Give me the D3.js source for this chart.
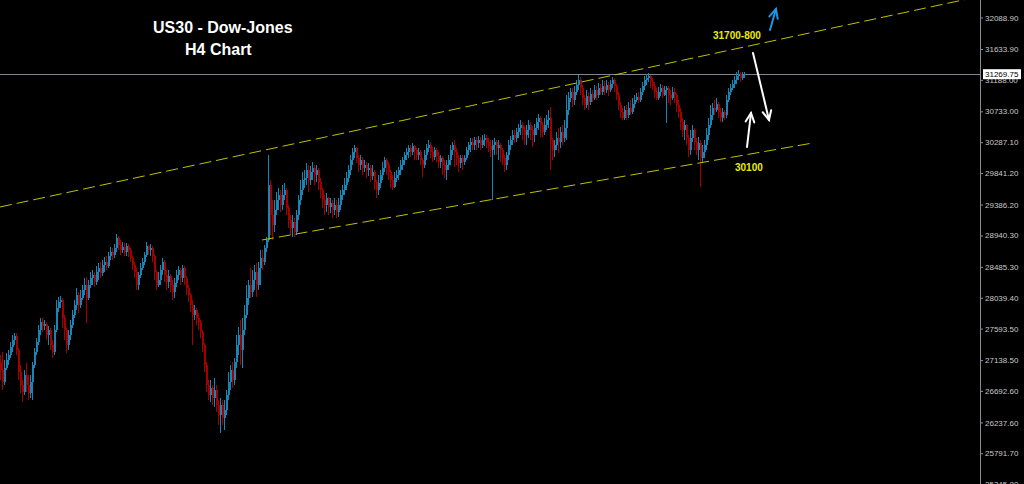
<!DOCTYPE html>
<html><head><meta charset="utf-8">
<script src="https://cdn.jsdelivr.net/npm/d3@7"></script>
<style>html,body{margin:0;padding:0;background:#000;overflow:hidden}svg{display:block}</style>
</head><body>
<svg id="chart" width="1024" height="484"></svg>
<script>
// ---- DATA ----
// H4 candles: [open, high, low, close]
const candles = [
[27111,27212,26851,26995],[26995,27255,26706,26822],[26822,27140,26779,27025],[27025,27241,26995,27140],[27140,27284,27068,27212],
[27212,27400,27169,27328],[27328,27501,27255,27429],[27429,27530,27357,27487],[27487,27530,27212,27284],[27284,27314,26851,26966],
[26966,27068,26663,26779],[26779,26851,26533,26677],[26677,26995,26634,26923],[26923,27097,26677,26779],[26779,26923,26562,26663],
[26663,26923,26591,26822],[26822,27111,26562,27068],[27068,27314,27025,27255],[27255,27458,27212,27400],[27400,27646,27357,27573],
[27573,27747,27501,27689],[27689,27747,27544,27632],[27632,27718,27573,27660],[27660,27689,27429,27501],[27501,27632,27357,27573],
[27573,27602,27284,27357],[27357,27429,27169,27255],[27255,27646,27212,27573],[27573,28007,27544,27891],[27891,28050,27833,27978],
[27978,28065,27891,28007],[28007,28036,27602,27747],[27747,27790,27429,27573],[27573,27602,27241,27357],[27357,27573,27284,27501],
[27501,27718,27429,27646],[27646,27862,27602,27790],[27790,28007,27747,27935],[27935,28180,27862,28079],[28079,28122,27819,27935],
[27935,28151,27891,28036],[28036,28224,28007,28151],[28151,28325,28079,28224],[28224,28339,27675,28036],[28036,28296,28007,28224],
[28224,28411,28180,28325],[28325,28440,28224,28368],[28368,28411,28195,28267],[28267,28499,28224,28411],[28411,28542,28296,28470],
[28470,28556,28325,28397],[28397,28585,28354,28513],[28513,28628,28411,28556],[28556,28643,28440,28499],[28499,28700,28470,28643],
[28643,28773,28585,28700],[28700,28758,28585,28657],[28657,28816,28614,28758],[28758,28960,28700,28903],[28903,28932,28729,28802],
[28802,28874,28657,28729],[28729,28845,28686,28773],[28773,28831,28643,28700],[28700,28831,28643,28787],[28787,28816,28628,28729],
[28729,28758,28556,28614],[28614,28643,28440,28513],[28513,28556,28325,28411],[28411,28470,28151,28224],[28224,28411,28151,28368],
[28368,28542,28325,28470],[28470,28614,28440,28556],[28556,28700,28513,28657],[28657,28845,28628,28787],[28787,28802,28657,28729],
[28729,28816,28643,28758],[28758,28787,28556,28643],[28643,28671,28296,28411],[28411,28440,28151,28224],[28224,28411,28195,28296],
[28296,28513,28224,28440],[28440,28614,28368,28556],[28556,28585,28267,28368],[28368,28440,28151,28267],[28267,28440,28180,28354],
[28354,28383,28122,28224],[28224,28296,28007,28122],[28122,28325,28036,28253],[28253,28440,28195,28368],[28368,28499,28296,28440],
[28440,28470,28224,28325],[28325,28513,28267,28470],[28470,28499,28224,28325],[28325,28354,28079,28180],[28180,28224,27978,28079],
[28079,28108,27833,27935],[27935,28007,27357,27790],[27790,27935,27718,27862],[27862,27891,27646,27747],[27747,27819,27573,27689],
[27689,27718,27458,27544],[27544,27573,27255,27357],[27357,27386,26966,27068],[27068,27111,26677,26779],[26779,26851,26562,26634],
[26634,26851,26533,26735],[26735,26779,26490,26591],[26591,26880,26461,26706],[26706,26779,26388,26490],[26490,26562,26201,26345],
[26345,26591,26085,26490],[26490,26562,26201,26302],[26302,26562,26128,26417],[26417,26706,26345,26634],[26634,26966,26562,26822],
[26822,27068,26706,26995],[26995,27111,26735,26851],[26851,27169,26779,27111],[27111,27501,27025,27357],[27357,27617,27212,27501],
[27501,27718,27068,27284],[27284,27747,27025,27573],[27573,27935,27501,27790],[27790,28224,27747,28036],[28036,28296,27935,28224],
[28224,28470,28036,28122],[28122,28440,28050,28296],[28296,28513,28151,28411],[28411,28542,28050,28224],[28224,28556,28151,28470],
[28470,28729,28224,28614],[28614,28729,28440,28556],[28556,28802,28513,28758],[28758,28917,28700,28874],[28874,30102,28845,29669],
[29669,29741,28946,29235],[29235,29452,28874,29091],[29091,29452,28989,29307],[29307,29567,29235,29452],[29452,29625,29307,29524],
[29524,29596,29278,29380],[29380,29669,29307,29524],[29524,29698,29452,29596],[29596,29625,29235,29336],[29336,29380,29047,29163],
[29163,29235,28946,29047],[29047,29235,28917,29134],[29134,29192,28917,28989],[28989,29307,28946,29235],[29235,29524,29163,29452],
[29452,29741,29380,29596],[29596,29857,29524,29741],[29741,29885,29625,29770],[29770,29987,29669,29885],[29885,29958,29567,29741],
[29741,29943,29669,29857],[29857,30001,29741,29914],[29914,29958,29669,29813],[29813,29958,29712,29885],[29885,29914,29596,29712],
[29712,29770,29481,29596],[29596,29625,29336,29452],[29452,29524,29235,29380],[29380,29553,29278,29481],[29481,29495,29235,29351],
[29351,29481,29264,29409],[29409,29452,29192,29307],[29307,29481,29235,29380],[29380,29452,29192,29278],[29278,29481,29206,29380],
[29380,29596,29307,29524],[29524,29669,29452,29596],[29596,29770,29524,29669],[29669,29857,29596,29770],[29770,29958,29712,29885],
[29885,30102,29813,30030],[30030,30203,29958,30145],[30145,30247,30059,30203],[30203,30218,29987,30059],[30059,30102,29857,29958],
[29958,30102,29885,30030],[30030,30073,29813,29914],[29914,30030,29857,29958],[29958,30001,29770,29885],[29885,29987,29799,29914],
[29914,29958,29712,29799],[29799,29958,29741,29857],[29857,29885,29596,29712],[29712,29741,29481,29596],[29596,29813,29524,29698],
[29698,29885,29625,29813],[29813,30001,29741,29914],[29914,30073,29857,30030],[30030,30059,29813,29958],[29958,30001,29741,29857],
[29857,29885,29625,29741],[29741,29813,29596,29640],[29640,29857,29625,29770],[29770,29885,29712,29813],[29813,29929,29741,29885],
[29885,30030,29813,29958],[29958,30073,29885,30030],[30030,30145,29958,30102],[30102,30203,30030,30145],[30145,30247,30059,30203],
[30203,30247,30073,30145],[30145,30276,30102,30232],[30232,30247,30030,30174],[30174,30203,30030,30102],[30102,30203,30030,30145],
[30145,30174,29958,30030],[30030,30059,29784,29958],[29958,30174,29914,30102],[30102,30261,30030,30203],[30203,30319,30145,30247],
[30247,30290,30059,30145],[30145,30218,30001,30073],[30073,30218,30030,30174],[30174,30203,30001,30088],[30088,30145,29914,30001],
[30001,30102,29914,30059],[30059,30088,29813,29958],[29958,30030,29770,29885],[29885,30030,29741,29958],[29958,30102,29885,30030],
[30030,30247,29958,30174],[30174,30290,30102,30247],[30247,30319,29929,30145],[30145,30203,29958,30059],[30059,30102,29857,29987],
[29987,30102,29914,30059],[30059,30102,29885,30001],[30001,30102,29958,30059],[30059,30218,30030,30174],[30174,30290,30102,30247],
[30247,30348,30145,30290],[30290,30348,30174,30247],[30247,30362,30174,30319],[30319,30362,30174,30276],[30276,30377,30203,30319],
[30319,30362,30174,30247],[30247,30391,30203,30319],[30319,30406,30232,30348],[30348,30391,30203,30290],[30290,30348,30145,30232],
[30232,30319,30073,30174],[30174,30319,29452,30247],[30247,30348,30102,30290],[30290,30319,30102,30203],[30203,30319,30030,30247],
[30247,30276,30001,30174],[30174,30203,29958,30059],[30059,30102,29857,29958],[29958,30145,29885,30102],[30102,30319,30030,30247],
[30247,30377,30174,30319],[30319,30463,30247,30391],[30391,30463,30276,30348],[30348,30492,30290,30434],[30434,30550,30348,30492],
[30492,30608,30391,30536],[30536,30579,30319,30463],[30463,30521,30247,30391],[30391,30536,30247,30463],[30463,30608,30348,30536],
[30536,30579,30319,30463],[30463,30521,30218,30391],[30391,30550,30290,30492],[30492,30637,30391,30579],[30579,30694,30463,30637],
[30637,30666,30362,30536],[30536,30579,30362,30434],[30434,30637,30391,30536],[30536,30680,30463,30608],[30608,30752,30492,30637],
[30637,30796,29885,30319],[30319,30348,30030,30174],[30174,30319,30073,30247],[30247,30434,30174,30348],[30348,30492,30131,30290],
[30290,30507,30203,30434],[30434,30536,30247,30348],[30348,30608,30290,30492],[30492,30969,30319,30752],[30752,31013,30680,30926],
[30926,31070,30868,31013],[31013,31070,30796,30897],[30897,31099,30825,31013],[31013,31186,30969,31114],[31114,31258,31041,31186],
[31186,31229,30969,31070],[31070,31114,30825,30926],[30926,30969,30752,30825],[30825,31041,30781,30955],[30955,31013,30752,30868],
[30868,31070,30825,30984],[30984,31041,30868,30926],[30926,31114,30897,31041],[31041,31099,30897,30969],[30969,31143,30926,31070],
[31070,31128,30969,31013],[31013,31186,30969,31099],[31099,31172,30969,31041],[31041,31186,30998,31114],[31114,31157,30955,31041],
[31041,31186,31013,31128],[31128,31229,31070,31186],[31186,31215,31013,31099],[31099,31128,30897,30969],[30969,31013,30752,30825],
[30825,30868,30637,30723],[30723,30781,30608,30637],[30637,30810,30608,30752],[30752,30825,30608,30680],[30680,30868,30637,30781],
[30781,30897,30680,30723],[30723,30926,30694,30839],[30839,30969,30781,30897],[30897,30998,30868,30940],[30940,31013,30854,30897],
[30897,31070,30868,31013],[31013,31157,30969,31099],[31099,31244,31041,31186],[31186,31273,31114,31215],[31215,31287,31157,31244],
[31244,31258,31070,31157],[31157,31215,31041,31099],[31099,31157,30926,31013],[31013,31070,30897,30926],[30926,31085,30897,31013],
[31013,31128,30955,31070],[31070,31114,30926,30969],[30969,31099,30955,31041],[31041,31099,30565,31070],[31070,31099,30854,30969],
[30969,31041,30825,30926],[30926,31085,30897,31013],[31013,31070,30854,30969],[30969,30998,30723,30825],[30825,30897,30637,30723],
[30723,30781,30463,30579],[30579,30637,30362,30463],[30463,30608,30319,30536],[30536,30550,30247,30348],[30348,30391,30073,30174],
[30174,30463,30102,30348],[30348,30536,30290,30463],[30463,30492,30174,30290],[30290,30348,30102,30174],[30174,30362,30030,30276],
[30276,30319,29640,30059],[30059,30247,29987,30145],[30145,30319,30059,30247],[30247,30492,30174,30391],[30391,30637,30319,30536],
[30536,30825,30492,30680],[30680,30854,30608,30781],[30781,30897,30680,30752],[30752,30926,30723,30839],[30839,30868,30637,30723],
[30723,30781,30579,30637],[30637,30781,30579,30723],[30723,30752,30608,30680],[30680,30969,30637,30897],[30897,31070,30868,31013],
[31013,31128,30969,31070],[31070,31186,31041,31128],[31128,31244,31070,31186],[31186,31302,31128,31244],[31244,31330,31186,31273],
[31273,31302,31157,31215],[31215,31302,31186,31258],[31258,31302,31215,31269.75]
];
const priceTicks = [32088.90,31633.90,31188.00,30733.00,30287.10,29841.20,29386.20,28940.30,
                    28485.30,28039.40,27593.50,27138.50,26692.60,26237.60,25791.70,25345.80];
const currentPrice = 31269.75;
// channel trend lines: [barIndex, price]
const upperChannel = [[0,29351],[490,32395]];
const lowerChannel = [[131,28874],[406.5,30276]];
const titleLines = ["US30 - Dow-Jones", "H4 Chart"];
const levelLabels = [{text:"31700-800", i:356.5, p:31778}, {text:"30100", i:367.5, p:29870}];
// arrows: from [barIndex, price] to [barIndex, price]
const arrows = [
  {from:[385,31908], to:[388,32212], color:"#1e96e6"},
  {from:[376.5,31576], to:[384.5,30608], color:"#ffffff"},
  {from:[373.5,30218], to:[375.5,30709], color:"#ffffff"}
];

// ---- DRAW ----
const W = 1024, H = 484, plotRight = 980;
const svg = d3.select("#chart");
svg.append("rect").attr("width", W).attr("height", H).attr("fill", "#000");

const x = d3.scaleLinear().domain([0, 490]).range([0, plotRight]);
const y = d3.scaleLinear().domain([25791.7, 32088.9]).range([453.3, 17.5]);
const bw = x(1) - x(0);

svg.append("defs").append("clipPath").attr("id", "plotClip")
  .append("rect").attr("x", 0).attr("y", 0).attr("width", plotRight).attr("height", H);
const plot = svg.append("g").attr("clip-path", "url(#plotClip)");

// current price line
plot.append("line").attr("x1", 0).attr("x2", plotRight)
  .attr("y1", Math.round(y(currentPrice)) + 0.5).attr("y2", Math.round(y(currentPrice)) + 0.5)
  .attr("stroke", "#7b8593").attr("stroke-width", 1);

const bull = "#1b84b4", bear = "#a30000";
const cg = plot.append("g").attr("shape-rendering", "crispEdges");
cg.selectAll("line.wick").data(candles).join("line").attr("class", "wick")
  .attr("x1", (d, i) => x(i) + 0.5).attr("x2", (d, i) => x(i) + 0.5)
  .attr("y1", d => y(d[1])).attr("y2", d => y(d[2]))
  .attr("stroke", d => d[3] >= d[0] ? bull : bear).attr("stroke-width", 1);
cg.selectAll("rect.body").data(candles).join("rect").attr("class", "body")
  .attr("x", (d, i) => x(i)).attr("width", bw)
  .attr("y", d => y(Math.max(d[0], d[3])))
  .attr("height", d => Math.max(1, Math.abs(y(d[0]) - y(d[3]))))
  .attr("fill", d => d[3] >= d[0] ? bull : bear);

// channel lines
const lineGen = d3.line().x(d => x(d[0])).y(d => y(d[1]));
[upperChannel, lowerChannel].forEach(c => {
  plot.append("path").attr("d", lineGen(c)).attr("fill", "none")
    .attr("stroke", "#c0c000").attr("stroke-width", 1).attr("stroke-dasharray", "12,5");
});

// arrows
arrows.forEach(a => {
  const x1 = x(a.from[0]), y1 = y(a.from[1]), x2 = x(a.to[0]), y2 = y(a.to[1]);
  const ang = Math.atan2(y2 - y1, x2 - x1), L = 10, sp = 0.45;
  const g = plot.append("g").attr("stroke", a.color).attr("stroke-width", 2)
    .attr("fill", "none").attr("stroke-linecap", "round");
  g.append("line").attr("x1", x1).attr("y1", y1).attr("x2", x2).attr("y2", y2);
  g.append("path").attr("d",
    `M${x2 - L * Math.cos(ang - sp)},${y2 - L * Math.sin(ang - sp)}L${x2},${y2}L${x2 - L * Math.cos(ang + sp)},${y2 - L * Math.sin(ang + sp)}`);
});

// level labels
plot.selectAll("text.lvl").data(levelLabels).join("text").attr("class", "lvl")
  .attr("x", d => x(d.i)).attr("y", d => y(d.p))
  .attr("fill", "#ecec00").attr("font-family", "'Liberation Sans', Arial, sans-serif")
  .attr("font-weight", "bold").attr("font-size", 10).text(d => d.text);

// title
svg.selectAll("text.title").data(titleLines).join("text").attr("class", "title")
  .attr("x", (d, i) => i === 0 ? 153 : 185).attr("y", (d, i) => i === 0 ? 33.3 : 55)
  .attr("fill", "#ffffff").attr("font-family", "'Liberation Sans', Arial, sans-serif")
  .attr("font-weight", "bold").attr("font-size", 16).text(d => d);

// right price axis
svg.append("line").attr("x1", plotRight + 0.5).attr("x2", plotRight + 0.5)
  .attr("y1", 0).attr("y2", H).attr("stroke", "#8c8c8c");
const axis = d3.axisRight(y).tickValues(priceTicks).tickSize(3).tickPadding(2)
  .tickFormat(d3.format(".2f"));
const ag = svg.append("g").attr("transform", `translate(${plotRight},0)`).call(axis);
ag.select(".domain").remove();
ag.selectAll(".tick line").attr("stroke", "#8c8c8c");
ag.selectAll(".tick text").attr("fill", "#c8c8c8")
  .attr("font-family", "'Liberation Sans', Arial, sans-serif").attr("font-size", 8);

// current price tag
const cy = y(currentPrice);
svg.append("rect").attr("x", 983).attr("y", cy - 5).attr("width", 38).attr("height", 10).attr("fill", "#ffffff");
svg.append("text").attr("x", 985).attr("y", cy).attr("dy", "0.32em").attr("fill", "#000")
  .attr("font-family", "'Liberation Sans', Arial, sans-serif").attr("font-size", 8)
  .text(d3.format(".2f")(currentPrice));
</script>
</body></html>
